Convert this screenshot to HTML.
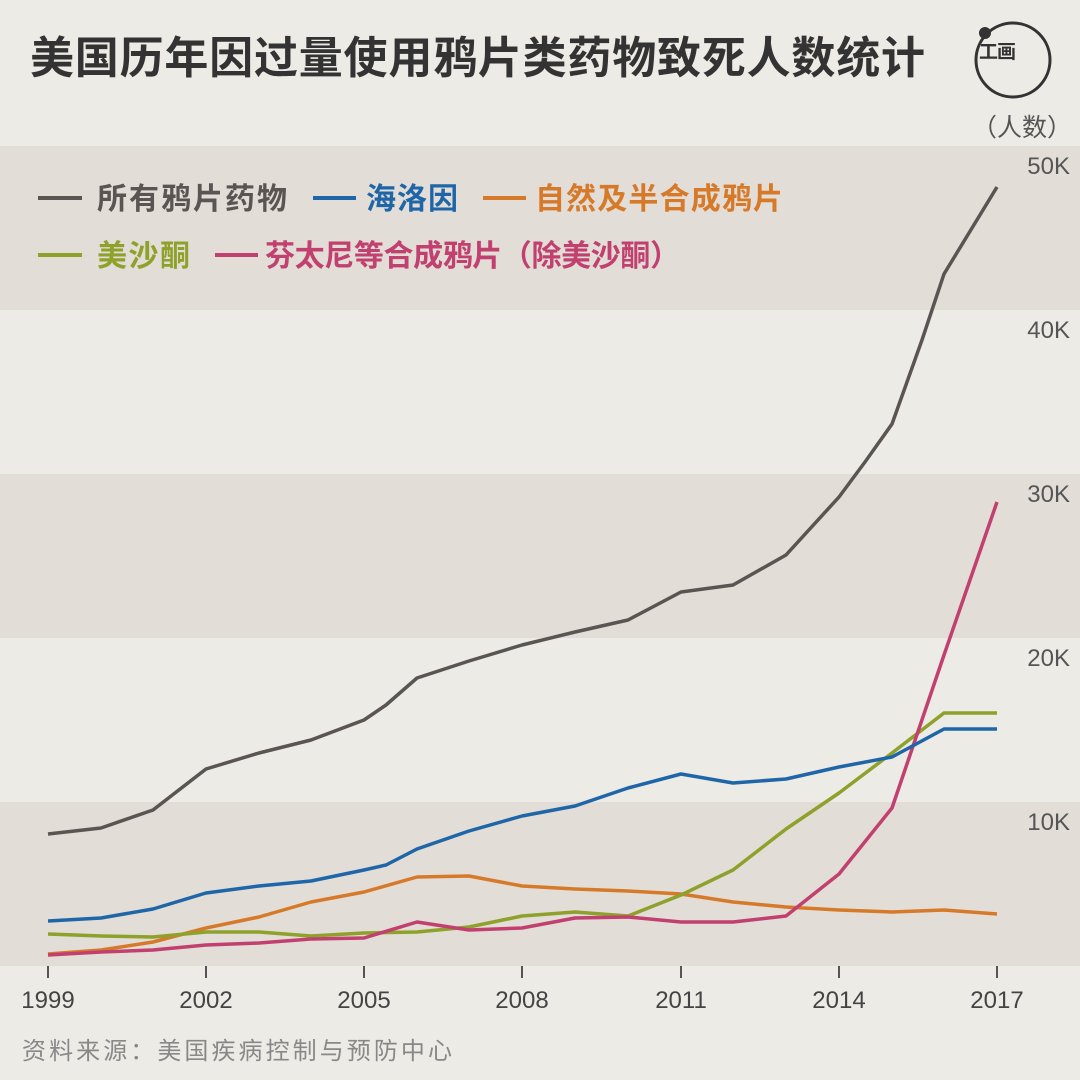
<!DOCTYPE html><html><head><meta charset="utf-8"><style>body{margin:0;background:#edebe6}svg{display:block}text{font-family:"Liberation Sans","Noto Sans CJK SC",sans-serif}</style></head><body>
<svg width="1080" height="1080" viewBox="0 0 1080 1080" xmlns="http://www.w3.org/2000/svg">
<rect width="1080" height="1080" fill="#edebe6"/>
<rect x="0" y="146" width="1080" height="164" fill="#e2ddd7"/>
<rect x="0" y="474" width="1080" height="164" fill="#e2ddd7"/>
<rect x="0" y="802" width="1080" height="164" fill="#e2ddd7"/>
<text x="30" y="73" font-size="44" font-weight="bold" fill="#333" textLength="895" lengthAdjust="spacing">美国历年因过量使用鸦片类药物致死人数统计</text>
<circle cx="1013" cy="60" r="37" fill="none" stroke="#333" stroke-width="3"/>
<circle cx="985" cy="33" r="6" fill="#333"/>
<text x="979" y="58" font-size="19" font-weight="bold" fill="#333">工</text><text x="997" y="58" font-size="19" font-weight="bold" fill="#333">画</text>
<text x="1072" y="136" font-size="25" fill="#555" text-anchor="end">（人数）</text>
<g font-size="24" fill="#555" text-anchor="end">
<text x="1070" y="174">50K</text><text x="1070" y="338">40K</text><text x="1070" y="502">30K</text><text x="1070" y="666">20K</text><text x="1070" y="830">10K</text>
</g>
<g font-size="24" fill="#444" text-anchor="middle">
<text x="48" y="1008">1999</text><text x="206" y="1008">2002</text><text x="364" y="1008">2005</text><text x="522" y="1008">2008</text><text x="681" y="1008">2011</text><text x="839" y="1008">2014</text><text x="997" y="1008">2017</text>
</g>
<g stroke="#555" stroke-width="2"><line x1="48" y1="966" x2="48" y2="978"/><line x1="206" y1="966" x2="206" y2="978"/><line x1="364" y1="966" x2="364" y2="978"/><line x1="522" y1="966" x2="522" y2="978"/><line x1="681" y1="966" x2="681" y2="978"/><line x1="839" y1="966" x2="839" y2="978"/><line x1="997" y1="966" x2="997" y2="978"/></g>
<text x="22" y="1059" font-size="24" fill="#888" textLength="430" lengthAdjust="spacing">资料来源：美国疾病控制与预防中心</text>
<g stroke-width="4" fill="none" stroke-linejoin="round">
<line x1="38" y1="198" x2="82" y2="198" stroke="#5a5553"/>
<line x1="313" y1="198" x2="356" y2="198" stroke="#1f66a8"/>
<line x1="483" y1="198" x2="526" y2="198" stroke="#d67a2a"/>
<line x1="38" y1="255" x2="82" y2="255" stroke="#8ea12a"/>
<line x1="215" y1="255" x2="258" y2="255" stroke="#c2406f"/>
</g>
<g font-size="30" font-weight="bold">
<text x="97" y="209" fill="#5a5553" textLength="190" lengthAdjust="spacing">所有鸦片药物</text>
<text x="366" y="209" fill="#1f66a8" textLength="92" lengthAdjust="spacing">海洛因</text>
<text x="535" y="209" fill="#d67a2a" textLength="248" lengthAdjust="spacing">自然及半合成鸦片</text>
<text x="97" y="266" fill="#8ea12a" textLength="93" lengthAdjust="spacing">美沙酮</text>
<text x="265" y="266" fill="#c2406f" textLength="415" lengthAdjust="spacing">芬太尼等合成鸦片（除美沙酮）</text>
</g>
<g stroke-width="3.5" fill="none" stroke-linejoin="round">
<polyline stroke="#d67a2a" points="48,954 101,950 153,942 206,928 259,917 311,902 364,892 417,877 469,876 522,886 575,889 628,891 681,894 733,902 786,907 839,910 892,912 944,910 997,914"/>
<polyline stroke="#8ea12a" points="48,934 101,936 153,937 206,932 259,932 311,936 364,933 417,932 469,927 522,916 575,912 628,916 681,895 733,870 786,829 839,793 892,753 944,713 997,713"/>
<polyline stroke="#c2406f" points="48,955 101,952 153,950 206,945 259,943 311,939 364,938 417,922 469,930 522,928 575,918 628,917 681,922 733,922 786,916 839,874 892,808 944,655 997,502"/>
<polyline stroke="#1f66a8" points="48,921 101,918 153,909 206,893 259,886 311,881 364,870 386,865 417,849 469,831 522,816 575,806 628,788 681,774 733,783 786,779 839,767 892,757 944,729 997,729"/>
<polyline stroke="#5a5553" points="48,834 101,828 153,810 206,769 259,753 311,740 364,720 386,705 417,678 469,661 522,645 575,632 628,620 681,592 733,585 786,555 839,497 865,462 892,424 922,340 944,274 997,187"/>
</g>
</svg></body></html>
